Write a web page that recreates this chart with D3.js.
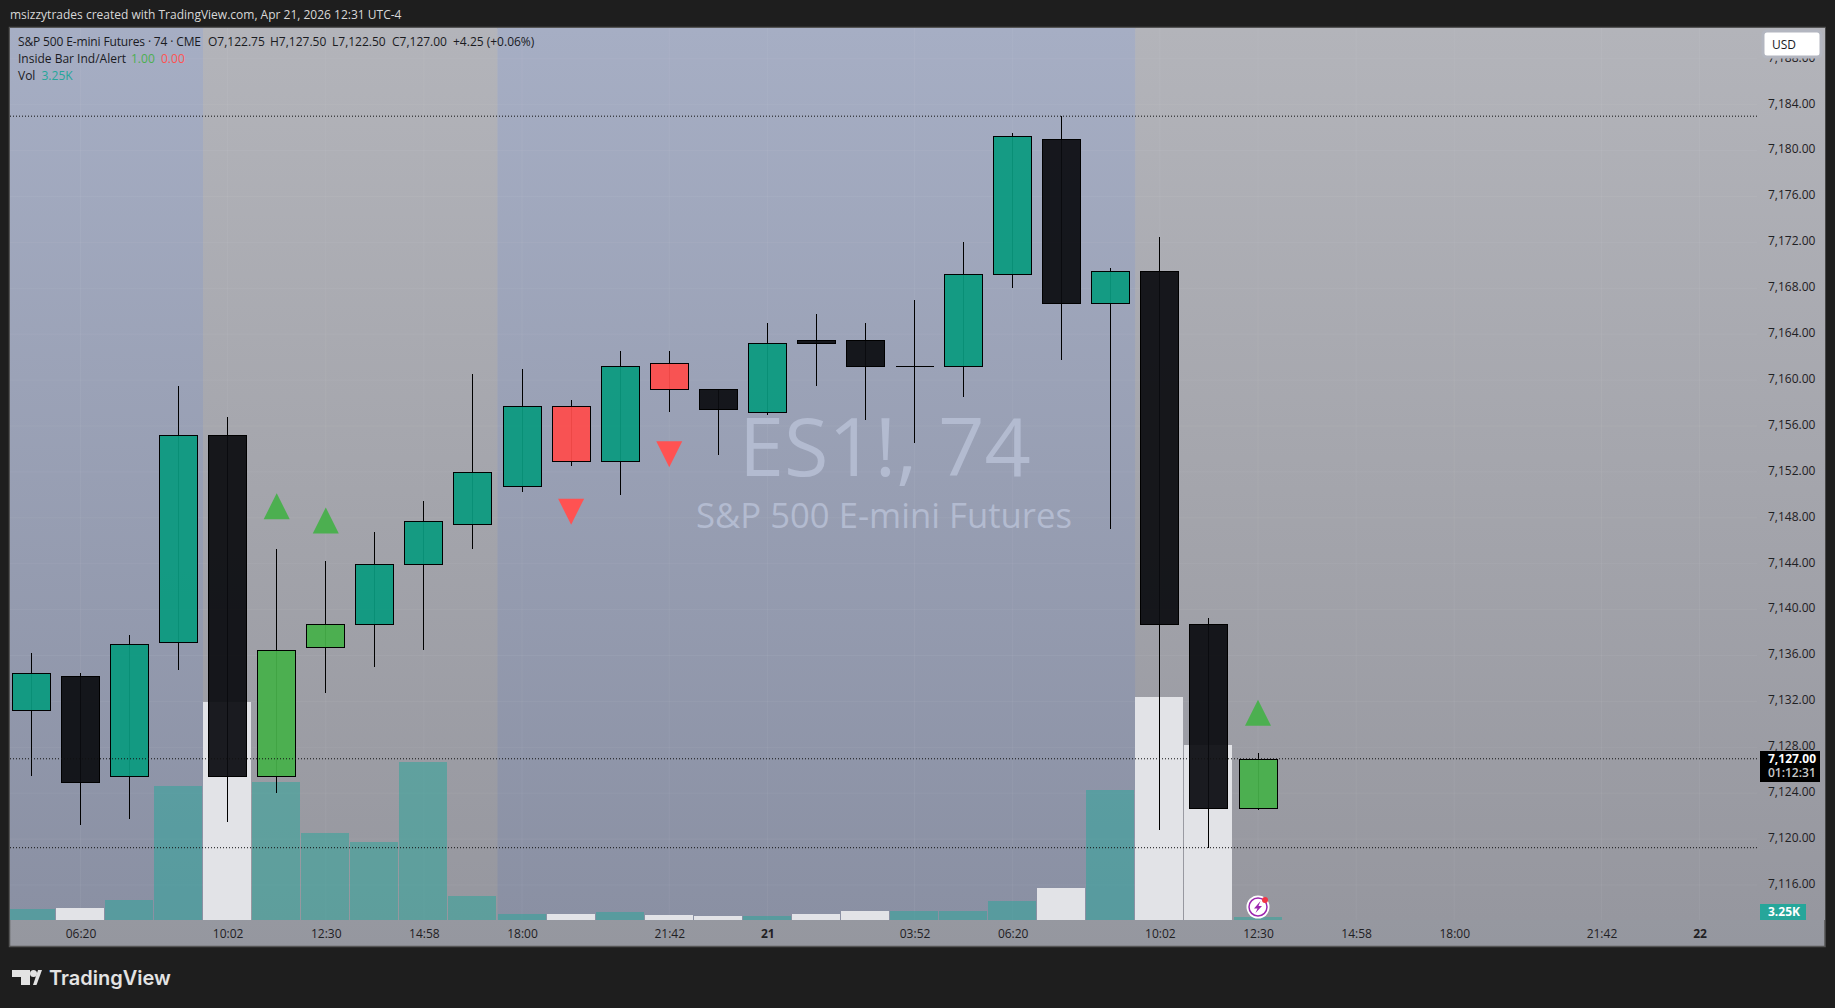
<!DOCTYPE html>
<html>

<head>
    <meta charset="utf-8">
    <style>
        html, body { margin: 0; padding: 0; background: #1e1e1e; overflow: hidden; }
        text { font-family: "Open Sans", "Noto Sans", sans-serif; }
    </style>
</head>

<body>
    <svg id="chart" width="1835" height="1008"></svg>
    <script src="https://cdn.jsdelivr.net/npm/d3@7"></script>
    <script>
        // Data
        const opens  = [7131.25, 7134.25, 7125.5, 7137.25, 7155.25, 7125.5, 7136.75, 7138.75, 7144, 7147.5, 7150.75, 7157.75, 7153, 7161.5, 7159.25, 7157.25, 7163.5, 7163.5, 7161.25, 7161.25, 7169.25, 7181, 7166.75, 7169.5, 7138.75, 7122.75]
        const highs  = [7136.25, 7134.5, 7137.75, 7159.5, 7156.75, 7145.25, 7144.25, 7146.75, 7149.5, 7160.5, 7161, 7158.25, 7162.5, 7162.5, 7159.25, 7165, 7165.75, 7165, 7167, 7172, 7181.5, 7183, 7169.75, 7172.5, 7139.25, 7127.5]
        const lows   = [7125.5, 7121.25, 7121.75, 7134.75, 7121.5, 7124, 7132.75, 7135, 7136.5, 7145.25, 7150.25, 7152.5, 7150, 7157.25, 7153.5, 7157, 7159.5, 7156.5, 7154.5, 7158.5, 7168, 7161.75, 7147, 7120.75, 7119.25, 7122.5]
        const closes = [7134.5, 7125, 7137, 7155.25, 7125.5, 7136.5, 7138.75, 7144, 7147.75, 7152, 7157.75, 7153, 7161.25, 7159.25, 7157.5, 7163.25, 7163.25, 7161.25, 7161.25, 7169.25, 7181.25, 7166.75, 7169.5, 7138.75, 7122.75, 7127]
        const barTypes = ["up", "down", "up", "up", "down", "insideUp", "insideUp", "up", "up", "up", "up", "insideDown", "up", "insideDown", "down", "up", "down", "down", "down", "up", "up", "down", "up", "down", "down", "insideUp"]
        const volumes = [12, 13, 21.7, 145, 236, 149.5, 94, 84.5, 171, 26, 6.5, 6.5, 8.7, 5.4, 4.3, 4.3, 6.5, 9.8, 9.8, 9.8, 20.6, 34.7, 141, 241.6, 189.6, 3.25]

        const upMarkers = [{ bar: 5, price: 7150.15 }, { bar: 6, price: 7148.9 }, { bar: 25, price: 7132.15 }]
        const downMarkers = [{ bar: 11, price: 7147.4 }, { bar: 13, price: 7152.4 }]

        const levelLines = [7183, 7127, 7119.25]
        const priceTicks = d3.range(7116, 7189, 4)
        const timeTicks = [1, 4, 6, 8, 10, 13, 15, 18, 20, 23, 25, 27, 29, 32, 34]
        const timeLabels = ["06:20", "10:02", "12:30", "14:58", "18:00", "21:42", "21", "03:52", "06:20", "10:02", "12:30", "14:58", "18:00", "21:42", "22"]

        // sessions as [first edge, last edge, kind], in bar numbers
        const sessions = [[-1, 3.5, "blue"], [3.5, 9.5, "grey"], [9.5, 22.5, "blue"], [22.5, 37, "grey"]]

        const headerText = "msizzytrades created with TradingView.com, Apr 21, 2026 12:31 UTC-4"
        const ohlcLabels = ["O7,122.75", "H7,127.50", "L7,122.50", "C7,127.00", "+4.25 (+0.06%)"]

        // Setup
        const plot = { left: 10, right: 1825, top: 28, bottom: 946, volBase: 920, axisRight: 1757 }
        const colors = {
            up: "#0a9a7f", down: "#0b0c10", insideUp: "#46b049", insideDown: "#ff4c4b",
            markerUp: "#4caf50", markerDown: "#ff5252",
            volUp: "rgba(38,166,154,0.5)", volDown: "#e2e3e7"
        }

        const svg = d3.select("#chart")
        const defs = svg.append("defs")

        const x = d3.scaleLinear().domain([0, 25]).range([31.4, 1258])
        const y = d3.scaleLinear().domain([7116, 7184]).range([885, 104.7])
        const v = d3.scaleLinear().domain([0, 250]).range([plot.volBase, plot.volBase - 230.75])

        function gradient(id, top, bottom) {
            const g = defs.append("linearGradient").attr("id", id).attr("x1", 0).attr("y1", 0).attr("x2", 0).attr("y2", 1)
            g.append("stop").attr("offset", 0).attr("stop-color", top)
            g.append("stop").attr("offset", 1).attr("stop-color", bottom)
        }
        gradient("bg-grey", "#b3b4ba", "#96979f")
        gradient("bg-blue", "#a6aec4", "#8a90a3")
        gradient("bg-base", "#b3b6c0", "#95979f")

        defs.append("clipPath").attr("id", "plot-clip").append("rect")
            .attr("x", plot.left).attr("y", plot.top)
            .attr("width", plot.right - plot.left).attr("height", plot.bottom - plot.top)

        // Header and frame
        svg.append("text").text(headerText)
            .attr("x", 10).attr("y", 19).attr("font-size", 12).attr("fill", "#d8d8d8")

        svg.append("rect")
            .attr("x", 9.5).attr("y", 27.5).attr("width", plot.right - 9.5).attr("height", plot.bottom - 27)
            .attr("fill", "url(#bg-base)").attr("stroke", "#555").attr("stroke-width", 1.5)

        const main = svg.append("g").attr("clip-path", "url(#plot-clip)")

        main.selectAll(".session").data(sessions).enter().append("rect")
            .attr("class", "session")
            .attr("x", d => x(d[0]))
            .attr("width", d => x(d[1]) - x(d[0]))
            .attr("y", plot.top).attr("height", plot.volBase - plot.top)
            .attr("fill", d => d[2] == "blue" ? "url(#bg-blue)" : "url(#bg-grey)")

        // grid
        main.selectAll(".hgrid").data(priceTicks).enter().append("line")
            .attr("x1", plot.left).attr("x2", plot.axisRight)
            .attr("y1", d => y(d)).attr("y2", d => y(d))
            .attr("stroke", "rgba(255,255,255,0.05)")
        main.selectAll(".vgrid").data(timeTicks).enter().append("line")
            .attr("x1", d => x(d)).attr("x2", d => x(d))
            .attr("y1", plot.top).attr("y2", plot.volBase)
            .attr("stroke", "rgba(255,255,255,0.05)")

        // watermark
        main.append("text").text("ES1!, 74")
            .attr("x", 885).attr("y", 476).attr("text-anchor", "middle")
            .attr("font-size", 81).attr("font-weight", 500).attr("fill", "#b3bbd0")
        main.append("text").text("S&P 500 E-mini Futures")
            .attr("x", 884).attr("y", 528).attr("text-anchor", "middle")
            .attr("font-size", 34.7).attr("font-weight", 500).attr("fill", "#b3bbd0")

        // volume
        main.selectAll(".vol").data(volumes).enter().append("rect")
            .attr("class", "vol")
            .attr("x", (d, i) => Math.floor(x(i)) - 24)
            .attr("width", 48)
            .attr("y", d => v(d))
            .attr("height", d => plot.volBase - v(d))
            .attr("fill", (d, i) => closes[i] >= opens[i] ? colors.volUp : colors.volDown)
            .attr("shape-rendering", "crispEdges")

        // candles
        const bars = main.selectAll(".bar").data(opens).enter().append("g")
            .attr("class", "bar")
            .attr("shape-rendering", "crispEdges")

        bars.append("line")
            .attr("x1", (d, i) => Math.floor(x(i)) + 0.5)
            .attr("x2", (d, i) => Math.floor(x(i)) + 0.5)
            .attr("y1", (d, i) => y(highs[i]))
            .attr("y2", (d, i) => y(lows[i]))
            .attr("stroke", "#000")

        // a path and not a rect, so a doji with no body still draws its line
        bars.append("path")
            .attr("d", (d, i) => {
                const top = Math.round(y(Math.max(opens[i], closes[i]))) + 0.5
                const h = Math.round(y(Math.min(opens[i], closes[i])) - y(Math.max(opens[i], closes[i])))
                return `M${Math.floor(x(i)) - 18.5},${top}h38v${h}h-38Z`
            })
            .attr("fill", (d, i) => colors[barTypes[i]])
            .attr("fill-opacity", 0.93)
            .attr("stroke", "#000")

        // level lines
        main.selectAll(".level").data(levelLines).enter().append("line")
            .attr("x1", plot.left).attr("x2", plot.axisRight)
            .attr("y1", d => y(d)).attr("y2", d => y(d))
            .attr("stroke", "#111").attr("stroke-dasharray", "1,2")

        // inside bar markers, price is the tip of the triangle
        main.selectAll(".up").data(upMarkers).enter().append("path")
            .attr("d", d => {
                const px = x(d.bar), py = y(d.price)
                return `M${px},${py}L${px + 13},${py + 26}L${px - 13},${py + 26}Z`
            })
            .attr("fill", colors.markerUp)
        main.selectAll(".downm").data(downMarkers).enter().append("path")
            .attr("d", d => {
                const px = x(d.bar), py = y(d.price)
                return `M${px},${py}L${px + 13},${py - 26}L${px - 13},${py - 26}Z`
            })
            .attr("fill", colors.markerDown)

        // axes, labels sit a little above their grid line like the reference
        const priceAxis = d3.axisRight(y).tickValues(priceTicks).tickSize(0).tickFormat(d3.format(",.2f"))
        const priceG = svg.append("g").attr("transform", `translate(${plot.axisRight + 11},-1.5)`).call(priceAxis)
        priceG.select(".domain").remove()
        priceG.selectAll("text").attr("x", 0).attr("font-size", 12).attr("fill", "#1f2023")
            .style("font-family", "'Open Sans', sans-serif")

        const timeAxis = d3.axisBottom(x).tickValues(timeTicks).tickSize(0)
            .tickFormat((d, i) => timeLabels[i])
        const timeG = svg.append("g").attr("transform", `translate(0,${plot.volBase})`).call(timeAxis)
        timeG.select(".domain").remove()
        timeG.selectAll("text").attr("y", 9).attr("font-size", 12).attr("fill", "#1f2023")
            .attr("font-weight", d => (d == 15 || d == 34) ? 700 : 400)
            .style("font-family", "'Open Sans', sans-serif")

        // legend
        const legend = svg.append("g").attr("font-size", 12).attr("fill", "#1a1b1f")
        legend.append("text").text("S&P 500 E-mini Futures · 74 · CME").attr("x", 18).attr("y", 46)
            .attr("textLength", 183)
        legend.selectAll(".ohlc").data(ohlcLabels).enter().append("text")
            .text(d => d)
            .attr("x", (d, i) => [208, 270, 332, 392, 453][i]).attr("y", 46)
        legend.append("text").text("Inside Bar Ind/Alert").attr("x", 18).attr("y", 63)
        legend.append("text").text("1.00").attr("x", 131).attr("y", 63).attr("fill", colors.markerUp)
        legend.append("text").text("0.00").attr("x", 161).attr("y", 63).attr("fill", colors.markerDown)
        legend.append("text").text("Vol").attr("x", 18).attr("y", 80)
        legend.append("text").text("3.25K").attr("x", 41.5).attr("y", 80).attr("fill", "#26a69a")

        // price scale tags
        svg.append("rect").attr("x", 1763).attr("y", 31).attr("width", 58).attr("height", 26).attr("rx", 4)
            .attr("fill", "#fff").attr("stroke", "#b3b6c0").attr("stroke-width", 3)
        svg.append("text").text("USD").attr("x", 1772).attr("y", 49).attr("font-size", 12).attr("fill", "#1a1b1f")

        svg.append("rect").attr("x", 1760).attr("y", 751).attr("width", 60).attr("height", 31).attr("fill", "#000")
        svg.append("text").text("7,127.00").attr("x", 1768).attr("y", 763).attr("font-size", 12).attr("font-weight", 700).attr("fill", "#fff")
        svg.append("text").text("01:12:31").attr("x", 1768).attr("y", 777).attr("font-size", 12).attr("font-weight", 600).attr("fill", "#c8c8c8")

        svg.append("rect").attr("x", 1760).attr("y", 904).attr("width", 46).attr("height", 16).attr("fill", "#26a69a")
        svg.append("text").text("3.25K").attr("x", 1768).attr("y", 916).attr("font-size", 12).attr("font-weight", 700).attr("fill", "#fff")

        // flash icon on the last bar
        const icon = svg.append("g").attr("transform", `translate(${x(25)},907)`)
        icon.append("circle").attr("r", 11.5).attr("fill", "#fff")
        icon.append("circle").attr("r", 9).attr("fill", "none").attr("stroke", "#9c27b0").attr("stroke-width", 1.5)
        icon.append("path").attr("d", "M2.5,-6L-4,1.5H-0.5L-2.5,6L4,-1H0.5Z").attr("fill", "#9c27b0")
        icon.append("circle").attr("cx", 7).attr("cy", -7).attr("r", 3).attr("fill", "#f23645")

        // TradingView logo
        const logo = svg.append("g").attr("fill", "#e3e3e3")
        logo.append("path").attr("d", "M12,970H30V985H21V977H12Z")
        logo.append("circle").attr("cx", 33.5).attr("cy", 973.5).attr("r", 3.5)
        logo.append("path").attr("d", "M33,985L38,970H42L36.5,985Z")
        logo.append("text").text("TradingView").attr("x", 49).attr("y", 985)
            .attr("font-size", 20).attr("font-weight", 600).style("font-family", "Inter, sans-serif")
    </script>
</body>

</html>
